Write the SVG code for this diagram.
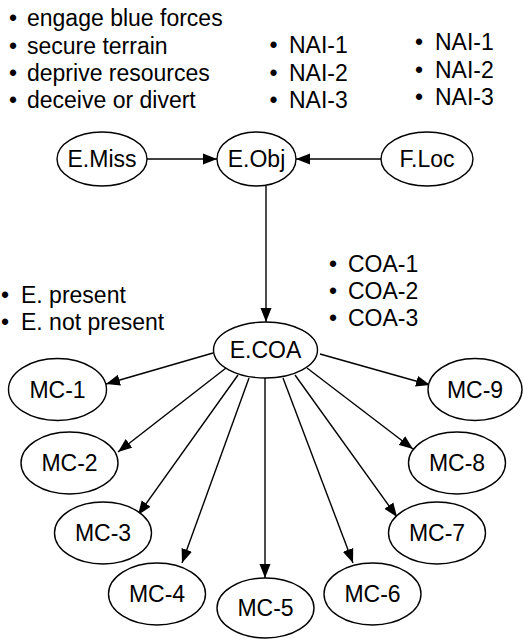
<svg xmlns="http://www.w3.org/2000/svg" width="524" height="639" viewBox="0 0 524 639">
<style>
text{font-family:"Liberation Sans",Arial,sans-serif;font-size:23px;fill:#000}
.lbl{text-anchor:middle}
ellipse{fill:#fff;stroke:#000;stroke-width:1.4}
.c line{stroke:#000;stroke-width:1.4;marker-end:url(#ah)}
</style>
<defs>
<marker id="ah" markerUnits="userSpaceOnUse" markerWidth="14" markerHeight="12" refX="14" refY="6" orient="auto">
<path d="M0,0.5 L14,6 L0,11.5 z" fill="#000"/>
</marker>
</defs>
<rect width="524" height="639" fill="#fff"/>
<g id="notes">
<text y="26"><tspan x="9">•</tspan><tspan x="27">engage blue forces</tspan></text>
<text y="53.5"><tspan x="9">•</tspan><tspan x="27">secure terrain</tspan></text>
<text y="81"><tspan x="9">•</tspan><tspan x="27">deprive resources</tspan></text>
<text y="108"><tspan x="9">•</tspan><tspan x="27">deceive or divert</tspan></text>
<text y="53"><tspan x="269.5">•</tspan><tspan x="289">NAI-1</tspan></text>
<text y="80.5"><tspan x="269.5">•</tspan><tspan x="289">NAI-2</tspan></text>
<text y="108"><tspan x="269.5">•</tspan><tspan x="289">NAI-3</tspan></text>
<text y="50"><tspan x="415">•</tspan><tspan x="435">NAI-1</tspan></text>
<text y="77.5"><tspan x="415">•</tspan><tspan x="435">NAI-2</tspan></text>
<text y="105"><tspan x="415">•</tspan><tspan x="435">NAI-3</tspan></text>
<text y="271.5"><tspan x="329">•</tspan><tspan x="348">COA-1</tspan></text>
<text y="298.5"><tspan x="329">•</tspan><tspan x="348">COA-2</tspan></text>
<text y="325.5"><tspan x="329">•</tspan><tspan x="348">COA-3</tspan></text>
<text y="302.5"><tspan x="1">•</tspan><tspan x="21">E. present</tspan></text>
<text y="330"><tspan x="1">•</tspan><tspan x="21">E. not present</tspan></text>
</g>
<g id="connectors" class="c">
<line x1="147" y1="159" x2="217" y2="159"/>
<line x1="381" y1="159" x2="296" y2="159"/>
<line x1="266" y1="186" x2="266" y2="322"/>
<line x1="213" y1="353" x2="106" y2="384"/>
<line x1="226" y1="368" x2="118" y2="452"/>
<line x1="238" y1="375" x2="138" y2="515"/>
<line x1="249" y1="378" x2="182" y2="563"/>
<line x1="265" y1="378" x2="265" y2="578"/>
<line x1="283" y1="378" x2="353" y2="563"/>
<line x1="295" y1="375" x2="397" y2="517"/>
<line x1="307" y1="368" x2="413" y2="449"/>
<line x1="320" y1="354" x2="430" y2="385"/>
</g>
<g id="E.Miss"><ellipse cx="102" cy="159" rx="45" ry="27"/><text class="lbl" x="102" y="167">E.Miss</text></g>
<g id="E.Obj"><ellipse cx="256.5" cy="159" rx="39.5" ry="27"/><text class="lbl" x="256.5" y="167">E.Obj</text></g>
<g id="F.Loc"><ellipse cx="427" cy="159" rx="46" ry="27"/><text class="lbl" x="427" y="167">F.Loc</text></g>
<g id="E.COA"><ellipse cx="265.5" cy="350" rx="52" ry="28"/><text class="lbl" x="265.5" y="358">E.COA</text></g>
<g id="MC-1"><ellipse cx="57.5" cy="389.5" rx="49" ry="31"/><text class="lbl" x="57.5" y="397.5">MC-1</text></g>
<g id="MC-2"><ellipse cx="69.5" cy="463" rx="48.5" ry="31"/><text class="lbl" x="69.5" y="471">MC-2</text></g>
<g id="MC-3"><ellipse cx="103" cy="533" rx="48.5" ry="31"/><text class="lbl" x="103" y="541">MC-3</text></g>
<g id="MC-4"><ellipse cx="157" cy="594" rx="48.5" ry="31"/><text class="lbl" x="157" y="602">MC-4</text></g>
<g id="MC-5"><ellipse cx="265.5" cy="608" rx="48.5" ry="30"/><text class="lbl" x="265.5" y="616">MC-5</text></g>
<g id="MC-6"><ellipse cx="372.5" cy="594" rx="48.5" ry="31"/><text class="lbl" x="372.5" y="602">MC-6</text></g>
<g id="MC-7"><ellipse cx="437" cy="533" rx="48.5" ry="31"/><text class="lbl" x="437" y="541">MC-7</text></g>
<g id="MC-8"><ellipse cx="457" cy="463" rx="48.5" ry="31"/><text class="lbl" x="457" y="471">MC-8</text></g>
<g id="MC-9"><ellipse cx="475" cy="389.5" rx="47" ry="31"/><text class="lbl" x="475" y="397.5">MC-9</text></g>
</svg>
